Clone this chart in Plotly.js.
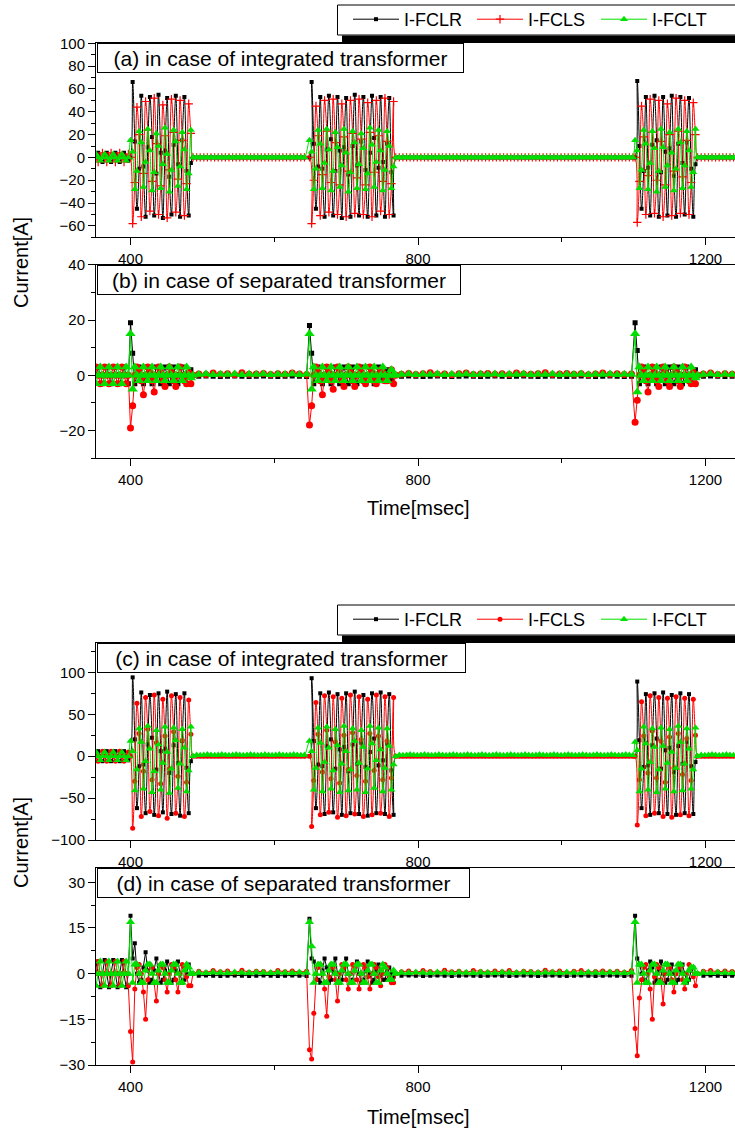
<!DOCTYPE html>
<html><head><meta charset="utf-8">
<script src="https://cdn.plot.ly/plotly-3.0.1.min.js"></script>
<style>html,body{margin:0;padding:0;background:#fff;}#chart{width:735px;height:1131px;}</style>
</head><body><div id="chart"></div>
<script>
// ---------------- DATA ----------------
const seriesNames = ['I-FCLR', 'I-FCLS', 'I-FCLT'];
const panelLabels = ['(a) in case of integrated transformer', '(b) in case of separated transformer',
                     '(c) in case of integrated transformer', '(d) in case of separated transformer'];
const xTitle = 'Time[msec]';
const yTitle = 'Current[A]';

// sample times (msec) for the integrated-transformer panels (a), (c)
const time_int = [
 352,355,358,361,364,367,370,373,376,379,382,385,388,391,394,397,
 400,403,406,409,412,415,418,421,424,427,430,433,436,439,442,445,448,451,454,457,460,463,466,469,472,475,478,481,484,487,
 492,497,502,507,512,517,522,527,532,537,542,547,552,557,562,567,572,577,582,587,592,597,602,607,612,617,622,627,632,637,642,
 649,652,655,658,661,664,667,670,673,676,679,682,685,688,691,694,697,700,703,706,709,712,715,718,721,724,727,730,733,736,739,742,745,748,751,754,757,760,763,766,769,
 774,779,784,789,794,799,804,809,814,819,824,829,834,839,844,849,854,859,864,869,874,879,884,889,894,899,904,909,914,919,
 924,929,934,939,944,949,954,959,964,969,974,979,984,989,994,999,1004,1009,1014,1019,1024,1029,1034,1039,1044,1049,1054,1059,1064,1069,
 1074,1079,1084,1089,1094,1099,
 1102,1105,1108,1111,1114,1117,1120,1123,1126,1129,1132,1135,1138,1141,1144,1147,1150,1153,1156,1159,1162,1165,1168,1171,1174,1177,1180,1183,1186,1189,
 1194,1199,1204,1209,1214,1219,1224,1229,1234,1239,1244
];
// sample times (msec) for the separated-transformer panels (b), (d)
const time_sep = [
 352,355,358,361,364,367,370,373,376,379,382,385,388,391,394,397,
 400,403,406,409,412,415,418,421,424,427,430,433,436,439,442,445,448,451,454,457,460,463,466,469,472,475,478,481,484,487,
 495,505,515,525,535,545,555,565,575,585,595,605,615,625,635,645,
 649,652,655,658,661,664,667,670,673,676,679,682,685,688,691,694,697,700,703,706,709,712,715,718,721,724,727,730,733,736,739,742,745,748,751,754,757,760,763,766,769,
 777,787,797,807,817,827,837,847,857,867,877,887,897,907,917,927,937,947,957,967,977,987,997,1007,1017,1027,1037,1047,1057,1067,1077,1087,1097,
 1102,1105,1108,1111,1114,1117,1120,1123,1126,1129,1132,1135,1138,1141,1144,1147,1150,1153,1156,1159,1162,1165,1168,1171,1174,1177,1180,1183,1186,1189,
 1197,1207,1217,1227,1237,1247
];

// (a) integrated transformer
const a_FCLR = [
 0,4,0,-4,0,4,0,-4,0,4,0,-4,0,4,0,-3,
 0,66,14,-45,-10, 54,-8,-52,9,53, 18,-51,-14,55,4, -53,6,52,-17,-50, 11,54,-6,-52,15, 53,-12,-51,-5,0,
 0,0,0,0,0,0,0,0,0,0, 0,0,0,0,0,0,0,0,0,0, 0,0,0,0,0,0,0,0,0,0, 0,
 0,66,12,-45,-8, 53,-10,-52,7,54, 16,-51,-12,53,6, -53,9,52,-15,-52, 10,55,-7,-51,14, 53,-11,-52,4,54, 17,-51,-9,53,-4, -52,12,52,-13,-51, 0,
 0,0,0,0,0,0,0,0,0,0, 0,0,0,0,0,0,0,0,0,0, 0,0,0,0,0,0,0,0,0,0, 0,0,0,0,0,0,0,0,0,0, 0,0,0,0,0,0,0,0,0,0, 0,0,0,0,0,0,0,0,0,0, 0,0,0,0,0,0,
 0,67,10,-45,-12, 53,-9,-51,11,54, 15,-52,-13,53,5, -51,8,54,-16,-52, 12,53,-5,-50,13, 52,-10,-52,-6,0,
 0,0,0,0,0,0,0,0,0,0,0
];
const a_FCLS = [
 0,-4,0,4,0,-4,0,4,0,-4,0,4,0,-4,0,3,
 0,-58,-22,44,20, -52,-14,49,24,-47, -21,52,12,-50,-25, 46,19,-53,-11,51, 22,-48,-19,50,15, -51,-23,47,21,0,
 0,0,0,0,0,0,0,0,0,0, 0,0,0,0,0,0,0,0,0,0, 0,0,0,0,0,0,0,0,0,0, 0,
 0,-58,-20,45,19, -51,-15,50,23,-48, -22,51,13,-50,-24, 47,18,-52,-12,50, 21,-49,-18,51,16, -50,-24,48,22,-52, -13,50,19,-47,-21, 52,14,-50,-23,49, 0,
 0,0,0,0,0,0,0,0,0,0, 0,0,0,0,0,0,0,0,0,0, 0,0,0,0,0,0,0,0,0,0, 0,0,0,0,0,0,0,0,0,0, 0,0,0,0,0,0,0,0,0,0, 0,0,0,0,0,0,0,0,0,0, 0,0,0,0,0,0,
 0,-57,-21,45,18, -50,-16,51,22,-49, -20,50,14,-52,-24, 47,20,-51,-12,52, 23,-49,-17,50,15, -50,-22,48,20,0,
 0,0,0,0,0,0,0,0,0,0,0
];
const a_FCLT = [
 3,0,-3,0,3,0,-3,0,3,0,-3,0,3,0,-3,0,
 15,5,-28,-12,23, 13,-26,-4,25,6, -29,-13,21,10,-27, -6,26,3,-30,-11, 24,14,-25,-8,22, 7,-28,-14,24,0,
 0,0,0,0,0,0,0,0,0,0, 0,0,0,0,0,0,0,0,0,0, 0,0,0,0,0,0,0,0,0,0, 0,
 15,5,-28,-10,24, 12,-27,-5,25,7, -29,-12,22,9,-26, -7,25,4,-30,-13, 23,13,-27,-6,21, 8,-28,-14,26,11, -26,-4,24,6,-29, -11,23,10,-27,-8, 0,
 0,0,0,0,0,0,0,0,0,0, 0,0,0,0,0,0,0,0,0,0, 0,0,0,0,0,0,0,0,0,0, 0,0,0,0,0,0,0,0,0,0, 0,0,0,0,0,0,0,0,0,0, 0,0,0,0,0,0,0,0,0,0, 0,0,0,0,0,0,
 15,6,-27,-11,24, 12,-28,-5,23,8, -30,-12,25,9,-26, -7,22,4,-29,-10, 25,13,-27,-7,23, 6,-26,-13,25,0,
 0,0,0,0,0,0,0,0,0,0,0
];

// (b) separated transformer
const b_FCLR = [
 0,3,0,-3,0,3,0,-3,0,3,0,-3,0,3,0,-3,
 19,8,-3,0,3, 0,-3,0,3,0, -3,0,3,0,-3, 0,3,0,-3,0, 3,0,-3,0,3, 0,-3,0,2,0,
 -0.3,-0.2,-0.3,-0.4,-0.3,-0.2,-0.3,-0.4,-0.3,-0.2,-0.3,-0.4,-0.3,-0.2,-0.3,-0.4,
 18,8,-3,0,3, 0,-3,0,3,0, -3,0,3,0,-3, 0,3,0,-3,0, 3,0,-3,0,3, 0,-3,0,3,0, -3,0,3,0,-2, 0,2,0,-2,0, 0,
 -0.3,-0.2,-0.3,-0.4,-0.3,-0.2,-0.3,-0.4,-0.3,-0.2, -0.3,-0.4,-0.3,-0.2,-0.3,-0.4,-0.3,-0.2,-0.3,-0.4, -0.3,-0.2,-0.3,-0.4,-0.3,-0.2,-0.3,-0.4,-0.3,-0.2, -0.3,-0.4,-0.3,
 19,9,-3,0,3, 0,-3,0,3,0, -3,0,3,0,-3, 0,3,0,-3,0, 3,0,-3,0,3, 0,-2,0,2,0,
 -0.3,-0.2,-0.3,-0.4,-0.3,-0.2
];
const b_FCLS = [
 3,0,-3,0,3,0,-3,0,3,0,-3,0,3,0,-3,0,
 -19,-11,0,3,2, -2,-7,0,3,1, -2,-6,0,3,1, -2,-4,0,3,1, -2,-4,0,3,0, -2,-3,1,-3,0,
 0.5,0.3,0.8,0.4,0.6,0.2,0.9,0.4,0.5,0.7,0.3,0.6,0.4,0.8,0.5,0.3,
 -18,-11,0,3,1, -2,-7,0,3,1, -2,-5,0,3,1, -2,-4,0,3,1, -2,-4,0,3,1, -2,-3,0,3,1, -2,-3,0,2,1, -2,-2,0,2,-3, 0,
 0.4,0.7,0.3,0.6,0.9,0.4,0.5,0.2,0.6,0.8, 0.3,0.5,0.7,0.4,0.6,0.3,0.8,0.5,0.4,0.6, 0.9,0.3,0.5,0.7,0.4,0.6,0.2,0.5,0.8,0.4, 0.6,0.3,0.5,
 -17,-9,0,3,2, -2,-6,0,3,1, -2,-4,0,3,1, -2,-4,0,3,1, -2,-4,0,3,0, -2,-3,1,-3,0,
 0.5,0.8,0.3,0.6,0.4,0.7
];
const b_FCLT = [
 -3,0,3,0,-3,0,3,0,-3,0,3,0,-3,0,3,0,
 15,-5,3,0,-2, 0,3,0,-2,0, 3,0,-2,0,3, 0,-2,0,3,0, -2,0,3,0,-2, 0,3,0,-1,0,
 0.3,0.5,0.2,0.4,0.3,0.5,0.2,0.4,0.3,0.5,0.2,0.4,0.3,0.5,0.2,0.4,
 15,-5,3,0,-2, 0,3,0,-2,0, 3,0,-2,0,3, 0,-2,0,3,0, -2,0,3,0,-2, 0,3,0,-2,0, 3,0,-2,0,3, 0,-2,0,2,0, 0,
 0.3,0.5,0.2,0.4,0.3,0.5,0.2,0.4,0.3,0.5, 0.2,0.4,0.3,0.5,0.2,0.4,0.3,0.5,0.2,0.4, 0.3,0.5,0.2,0.4,0.3,0.5,0.2,0.4,0.3,0.5, 0.2,0.4,0.3,
 15,-6,3,0,-2, 0,3,0,-2,0, 3,0,-2,0,3, 0,-2,0,3,0, -2,0,3,0,-2, 0,3,0,-1,0,
 0.3,0.5,0.2,0.4,0.3,0.5
];

// (c) integrated transformer
const c_FCLR = [
 0,6,0,-6,0,6,0,-6,0,6,0,-6,0,6,0,-5,
 0,94,20,-62,-12, 76,-10,-68,14,73, 22,-70,-16,75,6, -67,9,77,-20,-69, 13,74,-8,-71,18, 75,-14,-68,-6,0,
 0,0,0,0,0,0,0,0,0,0, 0,0,0,0,0,0,0,0,0,0, 0,0,0,0,0,0,0,0,0,0, 0,
 0,93,18,-62,-10, 75,-12,-69,12,76, 20,-67,-15,74,8, -70,11,75,-18,-68, 14,77,-9,-69,16, 73,-13,-71,5,75, 21,-68,-11,76,-5, -69,15,74,-17,-70, 0,
 0,0,0,0,0,0,0,0,0,0, 0,0,0,0,0,0,0,0,0,0, 0,0,0,0,0,0,0,0,0,0, 0,0,0,0,0,0,0,0,0,0, 0,0,0,0,0,0,0,0,0,0, 0,0,0,0,0,0,0,0,0,0, 0,0,0,0,0,0,
 0,89,19,-62,-13, 74,-11,-70,13,75, 21,-68,-15,76,7, -69,10,73,-19,-70, 12,75,-9,-68,17, 74,-12,-69,-7,0,
 0,0,0,0,0,0,0,0,0,0,0
];
const c_FCLS = [
 0,-6,0,6,0,-6,0,6,0,-6,0,6,0,-6,0,5,
 0,-86,-30,63,27, -72,-18,70,32,-66, -28,73,16,-71,-33, 68,24,-74,-15,72, 29,-68,-24,70,19, -72,-31,67,26,0,
 0,0,0,0,0,0,0,0,0,0, 0,0,0,0,0,0,0,0,0,0, 0,0,0,0,0,0,0,0,0,0, 0,
 0,-84,-29,64,26, -70,-19,72,31,-67, -27,71,17,-73,-32, 69,25,-71,-16,73, 28,-69,-23,71,20, -72,-30,68,27,-70, -17,73,24,-68,-28, 71,18,-72,-26,70, 0,
 0,0,0,0,0,0,0,0,0,0, 0,0,0,0,0,0,0,0,0,0, 0,0,0,0,0,0,0,0,0,0, 0,0,0,0,0,0,0,0,0,0, 0,0,0,0,0,0,0,0,0,0, 0,0,0,0,0,0,0,0,0,0, 0,0,0,0,0,0,
 0,-82,-28,65,24, -71,-20,72,30,-68, -26,70,18,-72,-31, 69,23,-73,-14,71, 27,-70,-22,69,21, -71,-29,68,25,0,
 0,0,0,0,0,0,0,0,0,0,0
];
const c_FCLT = [
 5,0,-5,0,5,0,-5,0,5,0,-5,0,5,0,-5,0,
 18,6,-41,-16,33, 17,-39,-6,36,9, -43,-18,31,14,-40, -8,35,5,-44,-15, 34,19,-38,-9,32, 10,-42,-17,35,0,
 1.5,1,1.5,2,1.5,1,1.5,2,1.5,1, 1.5,2,1.5,1,1.5,2,1.5,1,1.5,2, 1.5,1,1.5,2,1.5,1,1.5,2,1.5,1, 1.5,
 18,6,-40,-14,34, 16,-42,-7,35,10, -39,-17,32,13,-43, -9,36,6,-41,-16, 33,18,-40,-8,31, 11,-43,-15,36,15, -38,-5,34,8,-42, -14,33,12,-40,-10, 0,
 1.5,1,1.5,2,1.5,1,1.5,2,1.5,1, 1.5,2,1.5,1,1.5,2,1.5,1,1.5,2, 1.5,1,1.5,2,1.5,1,1.5,2,1.5,1, 1.5,2,1.5,1,1.5,2,1.5,1,1.5,2, 1.5,1,1.5,2,1.5,1,1.5,2,1.5,1, 1.5,2,1.5,1,1.5,2,1.5,1,1.5,2, 1.5,1,1.5,2,1.5,1,
 17,7,-42,-15,35, 15,-40,-7,33,11, -43,-16,34,12,-39, -8,32,5,-42,-14, 36,17,-41,-9,33, 9,-39,-16,34,0,
 1.5,1,1.5,2,1.5,1,1.5,2,1.5,1,1.5
];

// (d) separated transformer
const d_FCLR = [
 4,0,-4.5,0,4.5,0,-4.5,0,4.5,0,-4.5,0,4.5,0,-4.5,0,
 19,5,10,0,-3, -2,2,7,1,-3, -2,1,5,0,-3, -2,1,4,0,-3, -2,1,4,0,-3, -2,0,3,0,0,
 -0.7,-0.6,-0.7,-0.8,-0.7,-0.6,-0.7,-0.8,-0.7,-0.6,-0.7,-0.8,-0.7,-0.6,-0.7,-0.8,
 18,5,4,0,-2, -3,1,5,2,-3, -2,1,5,0,-3, -2,1,5,0,-3, -2,1,4,0,-3, -2,1,4,0,-3, -2,1,3,0,-2, -2,1,2,0,-1, 0,
 -0.7,-0.6,-0.7,-0.8,-0.7,-0.6,-0.7,-0.8,-0.7,-0.6, -0.7,-0.8,-0.7,-0.6,-0.7,-0.8,-0.7,-0.6,-0.7,-0.8, -0.7,-0.6,-0.7,-0.8,-0.7,-0.6,-0.7,-0.8,-0.7,-0.6, -0.7,-0.8,-0.7,
 19,5,3,0,-2, -3,1,4,2,-3, -2,1,4,0,-3, -2,1,3,0,-3, -2,1,3,0,-3, -2,1,2,0,0,
 -0.7,-0.6,-0.7,-0.8,-0.7,-0.6
];
const d_FCLS = [
 0,4,0,-4,0,4,0,-4,0,4,0,-4,0,4,0,-4,
 -19,-29,-5,2,3, 0,-6,-15,-2,3, 2,-3,-9,0,3, 2,-2,-6,0,3, 2,-2,-6,0,3, 2,-1,-4,-4,0,
 0.8,0.4,1,0.6,0.9,0.3,1.1,0.5,0.8,0.7,0.4,1,0.6,0.9,0.5,0.8,
 -25,-28,-13,-2,2, 3,0,-5,-14,-1, 3,2,-2,-9,0, 3,2,-2,-5,0, 3,2,-2,-5,0, 3,2,-1,-5,0, 3,2,-1,-4,0, 3,2,-1,-3,-3, 0,
 0.6,0.9,0.4,1,0.7,0.5,1.1,0.6,0.8,0.4, 1,0.7,0.5,0.9,0.6,1,0.4,0.8,0.7,0.5, 1.1,0.6,0.9,0.4,0.8,1,0.5,0.7,0.9,0.6, 0.8,0.5,1,
 -18,-27,-8,-2,2, 3,0,-5,-15,-1, 3,2,-2,-10,0, 3,2,-2,-6,0, 3,2,-2,-5,0, 3,2,-1,-4,0,
 0.8,1,0.6,0.9,0.7,1
];
const d_FCLT = [
 -4,0,4,0,-4,0,4,0,-4,0,4,0,-4,0,4,0,
 17,-3,3,3,0, -3,-3,1,3,3, 0,-3,-3,1,3, 3,0,-3,-3,1, 3,3,0,-3,-3, 1,3,2,0,0,
 0.3,0.2,0.4,0.3,0.2,0.4,0.3,0.2,0.4,0.3,0.2,0.4,0.3,0.2,0.4,0.3,
 17,9,-3,0,3, 3,0,-3,-3,1, 3,3,0,-3,-3, 1,3,3,0,-3, -3,1,3,3,0, -3,-3,1,3,3, 0,-3,-3,1,3, 2,0,-2,-2,1, 0,
 0.3,0.2,0.4,0.3,0.2,0.4,0.3,0.2,0.4,0.3, 0.2,0.4,0.3,0.2,0.4,0.3,0.2,0.4,0.3,0.2, 0.4,0.3,0.2,0.4,0.3,0.2,0.4,0.3,0.2,0.4, 0.3,0.2,0.4,
 17,-3,3,3,0, -3,-3,1,3,3, 0,-3,-3,1,3, 3,0,-3,-3,1, 3,3,0,-3,-2, 1,2,2,0,0,
 0.3,0.2,0.4,0.3,0.2,0.4
];

// ---------------- LAYOUT / STYLE ----------------
const W = 735, H = 1131;
const px = v => v / W;
const py = v => (H - v) / H;
const FONT = 'Liberation Sans, Arial, sans-serif';
const colors = ['#000000', '#ff0000', '#00e000'];

const panels = [
  {t: time_int, data: [a_FCLR, a_FCLS, a_FCLT], top: 43.3, bot: 237.3, range: [-70, 100], dtick: 20, minor: 10,
   shape: 'spline', sizes: [4, 6, 7], redSym: 'cross-thin-open', legend: 'legend', boxW: 365},
  {t: time_sep, data: [b_FCLR, b_FCLS, b_FCLT], top: 264.7, bot: 458.3, range: [-30, 40], dtick: 20, minor: 10,
   shape: 'linear', sizes: [5, 7, 9], redSym: 'circle', legend: null, boxW: 362},
  {t: time_int, data: [c_FCLR, c_FCLS, c_FCLT], top: 643, bot: 840, range: [-100, 135], dtick: 50, minor: 25,
   shape: 'spline', sizes: [4, 5, 7], redSym: 'circle', legend: 'legend2', boxW: 367},
  {t: time_sep, data: [d_FCLR, d_FCLS, d_FCLT], top: 868.3, bot: 1065, range: [-30, 34.6], dtick: 15, minor: 7.5,
   shape: 'linear', sizes: [4, 5, 8], redSym: 'circle', legend: null, boxW: 371}
];

panels.forEach((p, k) => p.data.forEach((arr, s) => {
  if (arr.length !== p.t.length) console.error('length mismatch', k, s, arr.length, p.t.length);
}));

const traces = [];
const layout = {
  width: W, height: H, margin: {l: 0, r: 0, t: 0, b: 0, autoexpand: false},
  paper_bgcolor: '#fff', plot_bgcolor: '#fff',
  font: {family: FONT, color: '#000'},
  annotations: [], shapes: []
};

panels.forEach((p, k) => {
  const n = k + 1;
  const xa = n === 1 ? 'x' : 'x' + n, ya = n === 1 ? 'y' : 'y' + n;
  const xk = n === 1 ? 'xaxis' : 'xaxis' + n, yk = n === 1 ? 'yaxis' : 'yaxis' + n;
  const syms = ['square', p.redSym, 'triangle-up'];
  p.data.forEach((vals, s) => {
    const t = {
      type: 'scatter', mode: 'lines+markers', x: p.t, y: vals,
      xaxis: xa, yaxis: ya, name: seriesNames[s],
      line: {color: colors[s], width: 1, shape: p.shape},
      marker: {symbol: syms[s], size: p.sizes[s], color: colors[s],
               line: {color: colors[s], width: syms[s] === 'cross-thin-open' ? 1.2 : 0}},
      showlegend: !!p.legend
    };
    if (p.legend) t.legend = p.legend;
    traces.push(t);
  });
  layout[xk] = {
    domain: [px(96), 1], range: [352, 1241], anchor: ya,
    tick0: 0, dtick: 400, ticks: 'outside', ticklen: 7, tickwidth: 1, tickcolor: '#000',
    ticklabelstandoff: 1,
    minor: {dtick: 200, ticks: 'outside', ticklen: 4, tickcolor: '#000', showgrid: false},
    showline: true, mirror: true, linecolor: '#000', linewidth: 1,
    showgrid: false, zeroline: false, tickfont: {family: FONT, size: 15, color: '#000'}
  };
  layout[yk] = {
    domain: [py(p.bot), py(p.top)], range: p.range, anchor: xa,
    tick0: 0, dtick: p.dtick, ticks: 'outside', ticklen: 7, tickwidth: 1, tickcolor: '#000',
    minor: {dtick: p.minor, ticks: 'outside', ticklen: 4, tickcolor: '#000', showgrid: false},
    showline: true, linecolor: '#000', linewidth: 1,
    showgrid: false, zeroline: false, tickfont: {family: FONT, size: 15, color: '#000'}
  };
  layout.annotations.push({
    text: panelLabels[k], xref: 'paper', yref: 'paper', x: px(96.5), y: py(p.top),
    xanchor: 'left', yanchor: 'top', showarrow: false, align: 'center',
    width: p.boxW, height: 28,
    bgcolor: '#fff', bordercolor: '#000', borderwidth: 1, borderpad: 0,
    font: {family: FONT, size: 21, color: '#000'}
  });
});

// axis titles
[[263, 508], [843, 1117]].forEach(([yc, yt]) => {
  layout.annotations.push({text: yTitle, xref: 'paper', yref: 'paper', x: px(21), y: py(yc),
    xanchor: 'center', yanchor: 'middle', textangle: -90, showarrow: false,
    font: {family: FONT, size: 20, color: '#000'}});
  layout.annotations.push({text: xTitle, xref: 'paper', yref: 'paper', x: px(418), y: py(yt),
    xanchor: 'center', yanchor: 'middle', showarrow: false,
    font: {family: FONT, size: 20, color: '#000'}});
});

// legends (frame and shadow drawn as shapes underneath)
const legBase = {orientation: 'h', xanchor: 'left', yanchor: 'top', x: px(348),
  bgcolor: 'rgba(0,0,0,0)', borderwidth: 0, itemwidth: 46, entrywidth: 63,
  font: {family: FONT, size: 18, color: '#000'}, traceorder: 'normal'};
layout.legend = Object.assign({}, legBase, {y: py(1)});
layout.legend2 = Object.assign({}, legBase, {y: py(601)});

[[5, 35, 43], [605, 635, 643]].forEach(([top, bot, plotTop]) => {
  layout.shapes.push({type: 'rect', xref: 'paper', yref: 'paper', x0: px(342), x1: 1.01,
    y0: py(plotTop), y1: py(bot + 0.5), fillcolor: '#000', line: {width: 0}, layer: 'above'});
  layout.shapes.push({type: 'rect', xref: 'paper', yref: 'paper', x0: px(337.5), x1: 1.01,
    y0: py(bot), y1: py(top), fillcolor: '#fff', line: {color: '#000', width: 1}, layer: 'above'});
});

Plotly.newPlot('chart', traces, layout, {displayModeBar: false, staticPlot: true});
</script></body></html>
